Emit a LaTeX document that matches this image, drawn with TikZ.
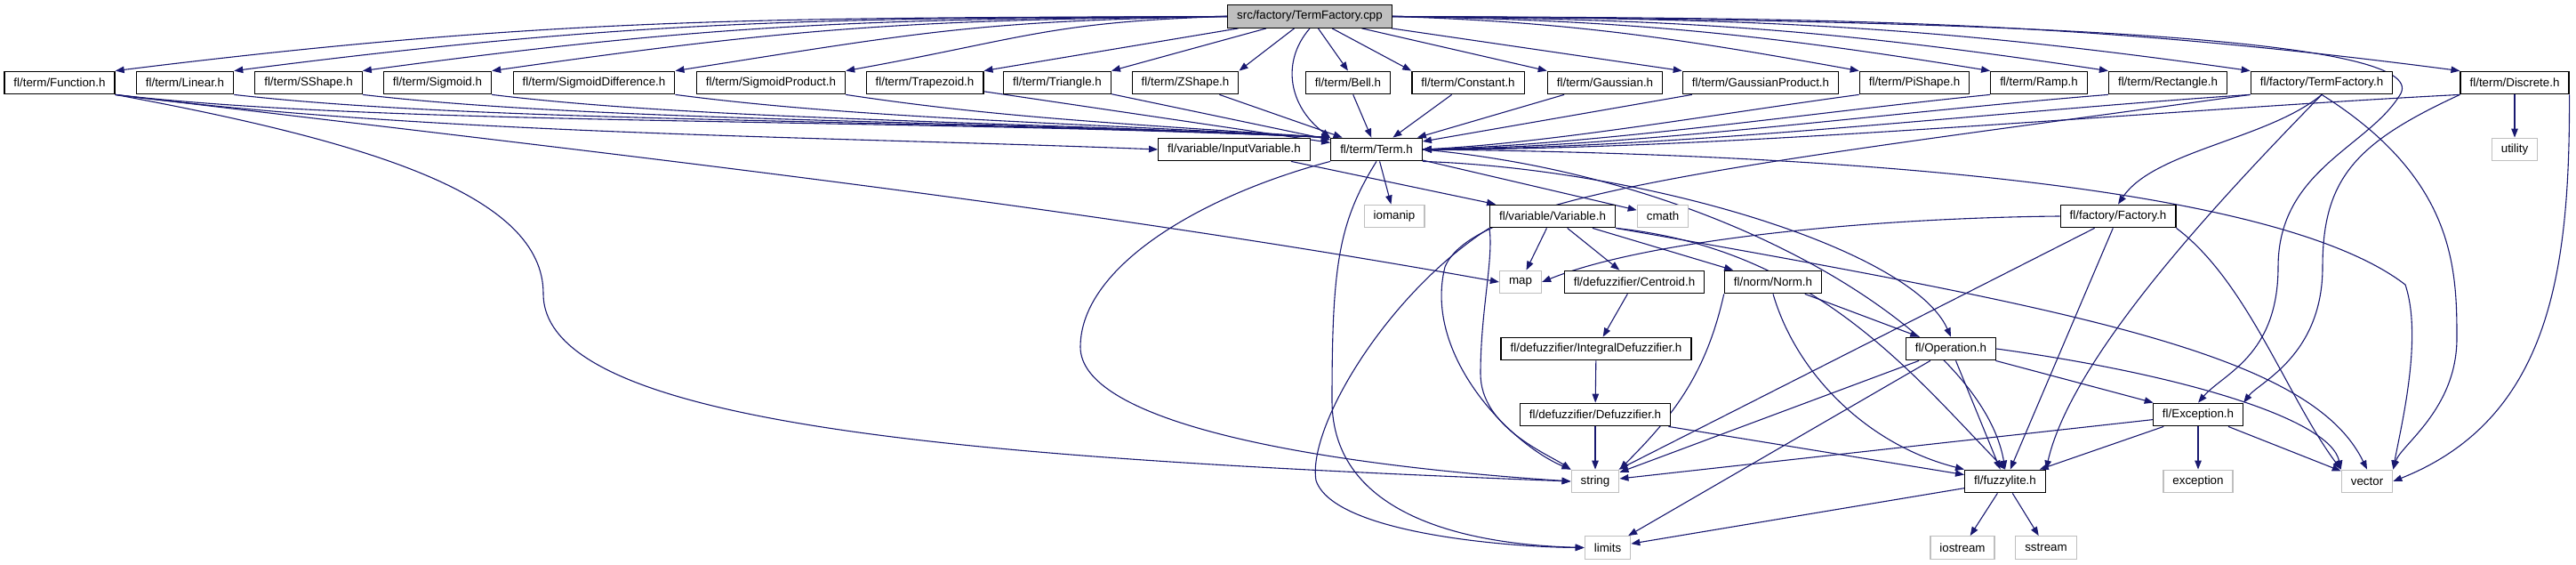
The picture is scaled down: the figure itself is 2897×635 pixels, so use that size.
\documentclass[tikz,border=0pt]{standalone}
\usepackage{fontspec}
\setmainfont{Liberation Sans}
\usetikzlibrary{arrows.meta,backgrounds}
\definecolor{edgeblue}{RGB}{25,25,112}
\definecolor{sysgray}{RGB}{191,191,191}

\begin{document}
\begin{tikzpicture}[x=0.5pt, y=-0.5pt,
    font=\fontsize{6.67}{8}\selectfont,
    hdr/.style={draw=black, line width=0.65pt, fill=white, inner xsep=5.25pt,
                inner ysep=0pt, minimum height=12.75pt},
    sys/.style={hdr, draw=sysgray},
    src/.style={hdr, fill=sysgray},
    inc/.style={draw=edgeblue, line width=0.55pt, -{Triangle[length=5pt,width=3.75pt]}}]
  \useasboundingbox (0,0) rectangle (2897,635);
  % fichier source
  \node[src] (cpp) at (1473,18.5) {src/factory/TermFactory.cpp};
  % termes
  \node[hdr] (func)  at (67,93)   {fl/term/Function.h};
  \node[hdr] (lin)   at (208,93)  {fl/term/Linear.h};
  \node[hdr] (ssh)   at (347,93)  {fl/term/SShape.h};
  \node[hdr] (sig)   at (492,93)  {fl/term/Sigmoid.h};
  \node[hdr] (sdiff) at (668,93)  {fl/term/SigmoidDifference.h};
  \node[hdr] (sprod) at (867,93)  {fl/term/SigmoidProduct.h};
  \node[hdr] (trap)  at (1040,93) {fl/term/Trapezoid.h};
  \node[hdr] (tri)   at (1189,93) {fl/term/Triangle.h};
  \node[hdr] (zsh)   at (1333,93) {fl/term/ZShape.h};
  \node[hdr] (bell)  at (1516,93) {fl/term/Bell.h};
  \node[hdr] (const) at (1651,93) {fl/term/Constant.h};
  \node[hdr] (gaus)  at (1805,93) {fl/term/Gaussian.h};
  \node[hdr] (gprod) at (1980,93) {fl/term/GaussianProduct.h};
  \node[hdr] (pish)  at (2153,93) {fl/term/PiShape.h};
  \node[hdr] (ramp)  at (2293,93) {fl/term/Ramp.h};
  \node[hdr] (rect)  at (2438,93) {fl/term/Rectangle.h};
  \node[hdr] (tfac)  at (2611,93) {fl/factory/TermFactory.h};
  \node[hdr] (disc)  at (2828,93) {fl/term/Discrete.h};
  % niveau 2
  \node[hdr] (invar) at (1388,168) {fl/variable/InputVariable.h};
  \node[hdr] (term)  at (1548,168) {fl/term/Term.h};
  \node[sys] (util)  at (2828,168) {utility};
  % niveau 3
  \node[sys] (ioman) at (1568,243) {iomanip};
  \node[hdr] (var)   at (1746,243) {fl/variable/Variable.h};
  \node[sys] (cmath) at (1870,243) {cmath};
  \node[hdr] (fac)   at (2382,243) {fl/factory/Factory.h};
  % niveau 4
  \node[sys] (map)   at (1710,317) {map};
  \node[hdr] (cent)  at (1838,317) {fl/defuzzifier/Centroid.h};
  \node[hdr] (norm)  at (1994,317) {fl/norm/Norm.h};
  % niveau 5
  \node[hdr] (intdef) at (1795,392) {fl/defuzzifier/IntegralDefuzzifier.h};
  \node[hdr] (oper)   at (2194,392) {fl/Operation.h};
  % niveau 6
  \node[hdr] (defuz) at (1794,466) {fl/defuzzifier/Defuzzifier.h};
  \node[hdr] (excp)  at (2472,466) {fl/Exception.h};
  % niveau 7
  \node[sys] (str)   at (1794,541) {string};
  \node[hdr] (fuzzy) at (2255,541) {fl/fuzzylite.h};
  \node[sys] (exc)   at (2472,541) {exception};
  \node[sys] (vect)  at (2662,541) {vector};
  % niveau 8
  \node[sys] (limits) at (1808,615.5) {limits};
  \node[sys] (iostr)  at (2207,615.5) {iostream};
  \node[sys] (sstr)   at (2301,615.5) {sstream};

  \begin{scope}[on background layer]
  % inclusions du .cpp
  \draw[inc] (cpp.west) .. controls +(-500,2) and +(500,-62) .. (func.north east);
  \draw[inc] (cpp.west) .. controls +(-450,2) and +(450,-58) .. (lin.north east);
  \draw[inc] (cpp.west) .. controls +(-400,3) and +(400,-54) .. (ssh.north east);
  \draw[inc] (cpp.west) .. controls +(-350,4) and +(350,-50) .. (sig.north east);
  \draw[inc] (cpp.west) .. controls +(-280,5) and +(280,-44) .. (sdiff.north east);
  \draw[inc] (cpp.west) .. controls +(-200,6) and +(200,-36) .. (sprod.north east);
  \draw[inc] (cpp) -- (trap.north east);
  \draw[inc] (cpp) -- (tri.north east);
  \draw[inc] (cpp) -- (zsh.north east);
  \draw[inc] (cpp) -- (bell.north);
  \draw[inc] (cpp) -- (const.north west);
  \draw[inc] (cpp) -- (gaus.north west);
  \draw[inc] (cpp) -- (gprod.north west);
  \draw[inc] (cpp.east) .. controls +(200,6) and +(-200,-36) .. (pish.north west);
  \draw[inc] (cpp.east) .. controls +(260,4) and +(-260,-42) .. (ramp.north west);
  \draw[inc] (cpp.east) .. controls +(320,3) and +(-320,-48) .. (rect.north west);
  \draw[inc] (cpp.east) .. controls +(380,2) and +(-380,-54) .. (tfac.north west);
  \draw[inc] (cpp.east) .. controls +(460,2) and +(-460,-60) .. (disc.north west);
  \draw[inc] (cpp.south) .. controls (1440,70) and (1450,120) .. (term.north west);
  \draw[inc] (cpp.east) .. controls (2300,22) and (2730,45) .. (2700,105)
                        .. controls (2665,165) and (2562,190) .. (2562,300)
                        .. controls (2562,400) and (2500,420) .. (excp.north);
  % termes vers Term.h
  \draw[inc] (func.south east)  .. controls +(300,35) and +(-500,-22) .. (term.north west);
  \draw[inc] (lin.south east)   .. controls +(280,32) and +(-460,-21) .. (term.north west);
  \draw[inc] (ssh.south east)   .. controls +(260,30) and +(-420,-20) .. (term.north west);
  \draw[inc] (sig.south east)   .. controls +(230,28) and +(-380,-19) .. (term.north west);
  \draw[inc] (sdiff.south east) .. controls +(200,26) and +(-320,-18) .. (term.north west);
  \draw[inc] (sprod.south east) .. controls +(160,24) and +(-260,-17) .. (term.north west);
  \draw[inc] (trap) -- (term);
  \draw[inc] (tri) -- (term);
  \draw[inc] (zsh) -- (term);
  \draw[inc] (bell) -- (term);
  \draw[inc] (const) -- (term);
  \draw[inc] (gaus) -- (term);
  \draw[inc] (gprod) -- (term);
  \draw[inc] (pish.south west) .. controls +(-150,20) and +(150,-8) .. (term.east);
  \draw[inc] (ramp.south west) .. controls +(-200,20) and +(200,-6) .. (term.east);
  \draw[inc] (rect.south west) .. controls +(-250,20) and +(250,-4) .. (term.east);
  \draw[inc] (tfac.south west) .. controls +(-300,20) and +(300,-2) .. (term.east);
  \draw[inc] (disc.south west) .. controls +(-350,18) and +(350,0) .. (term.east);
  % Function.h
  \draw[inc] (func.south east) .. controls +(350,45) and +(-350,-14) .. (invar.west);
  \draw[inc] (func.south east) .. controls +(500,60) and +(-500,-90) .. (map.west);
  \draw[inc] (func.south east) .. controls (420,160) and (611,220) .. (611,330)
                               .. controls (611,480) and (1100,515) .. (str.west);
  % Term.h
  \draw[inc] (term) -- (ioman);
  \draw[inc] (term) -- (cmath);
  \draw[inc] (term.south west) .. controls (1350,220) and (1215,300) .. (1215,390)
                               .. controls (1215,470) and (1450,520) .. (str.west);
  \draw[inc] (term.south) .. controls (1505,250) and (1498,300) .. (1498,450)
                          .. controls (1498,580) and (1650,612) .. (limits.west);
  \draw[inc] (term.south east) .. controls (1850,190) and (2150,280) .. (oper.north);
  \draw[inc] (term.east) .. controls (1950,200) and (2230,380) .. (fuzzy.north);
  \draw[inc] (term.east) .. controls (2000,172) and (2550,200) .. (2705,320)
                         .. controls (2725,380) and (2700,480) .. (vect.north east);
  % variables
  \draw[inc] (invar) -- (var);
  \draw[inc] (var) -- (map);
  \draw[inc] (var) -- (cent);
  \draw[inc] (var) -- (norm);
  \draw[inc] (var.south west) .. controls (1680,290) and (1665,350) .. (1665,420)
                              .. controls (1665,480) and (1740,510) .. (str.north west);
  \draw[inc] (var.south west) .. controls (1560,330) and (1470,480) .. (1480,540)
                              .. controls (1500,600) and (1700,615) .. (limits.west);
  \draw[inc] (var.south east) .. controls (2040,280) and (2150,420) .. (fuzzy.north);
  \draw[inc] (var.south east) .. controls (2350,350) and (2600,400) .. (vect.north);
  % defuzzifier
  \draw[inc] (cent) -- (intdef);
  \draw[inc] (intdef) -- (defuz);
  \draw[inc] (defuz) -- (str);
  \draw[inc] (defuz) -- (fuzzy);
  % Norm.h
  \draw[inc] (norm) -- (oper);
  \draw[inc] (norm.south west) .. controls +(-20,90) and +(60,-60) .. (str.north east);
  \draw[inc] (norm.south) .. controls (2020,420) and (2100,500) .. (fuzzy.north west);
  % Operation.h
  \draw[inc] (oper) -- (fuzzy);
  \draw[inc] (oper) -- (excp);
  \draw[inc] (oper) -- (str);
  \draw[inc] (oper) -- (limits);
  \draw[inc] (oper.east) .. controls (2450,420) and (2620,470) .. (vect.north west);
  % fabriques
  \draw[inc] (tfac.south) .. controls +(-60,50) and +(40,-60) .. (fac.north);
  \draw[inc] (tfac.south west) .. controls (2000,180) and (1660,215) .. (1625,300)
                               .. controls (1600,400) and (1700,500) .. (str.north west);
  \draw[inc] (tfac.south) .. controls (2500,220) and (2330,400) .. (fuzzy.north east);
  \draw[inc] (tfac.south) .. controls (2760,200) and (2763,300) .. (2763,380)
                          .. controls (2763,460) and (2700,500) .. (vect.north east);
  \draw[inc] (fac.west) .. controls (2100,245) and (1850,270) .. (map.east);
  \draw[inc] (fac) -- (str);
  \draw[inc] (fac) -- (fuzzy);
  \draw[inc] (fac.south east) .. controls +(80,60) and +(-60,-80) .. (vect.north west);
  % Discrete.h
  \draw[inc] (disc) -- (util);
  \draw[inc] (disc.south east) .. controls (2890,300) and (2870,470) .. (vect.east);
  \draw[inc] (disc.south west) .. controls (2650,160) and (2612,200) .. (2612,300)
                               .. controls (2612,400) and (2540,430) .. (excp.north east);
  % Exception.h et fuzzylite.h
  \draw[inc] (excp) -- (fuzzy);
  \draw[inc] (excp) -- (exc);
  \draw[inc] (excp) -- (str);
  \draw[inc] (excp) -- (vect);
  \draw[inc] (fuzzy) -- (iostr);
  \draw[inc] (fuzzy) -- (sstr);
  \draw[inc] (fuzzy) -- (limits);
  \end{scope}
\end{tikzpicture}
\end{document}
